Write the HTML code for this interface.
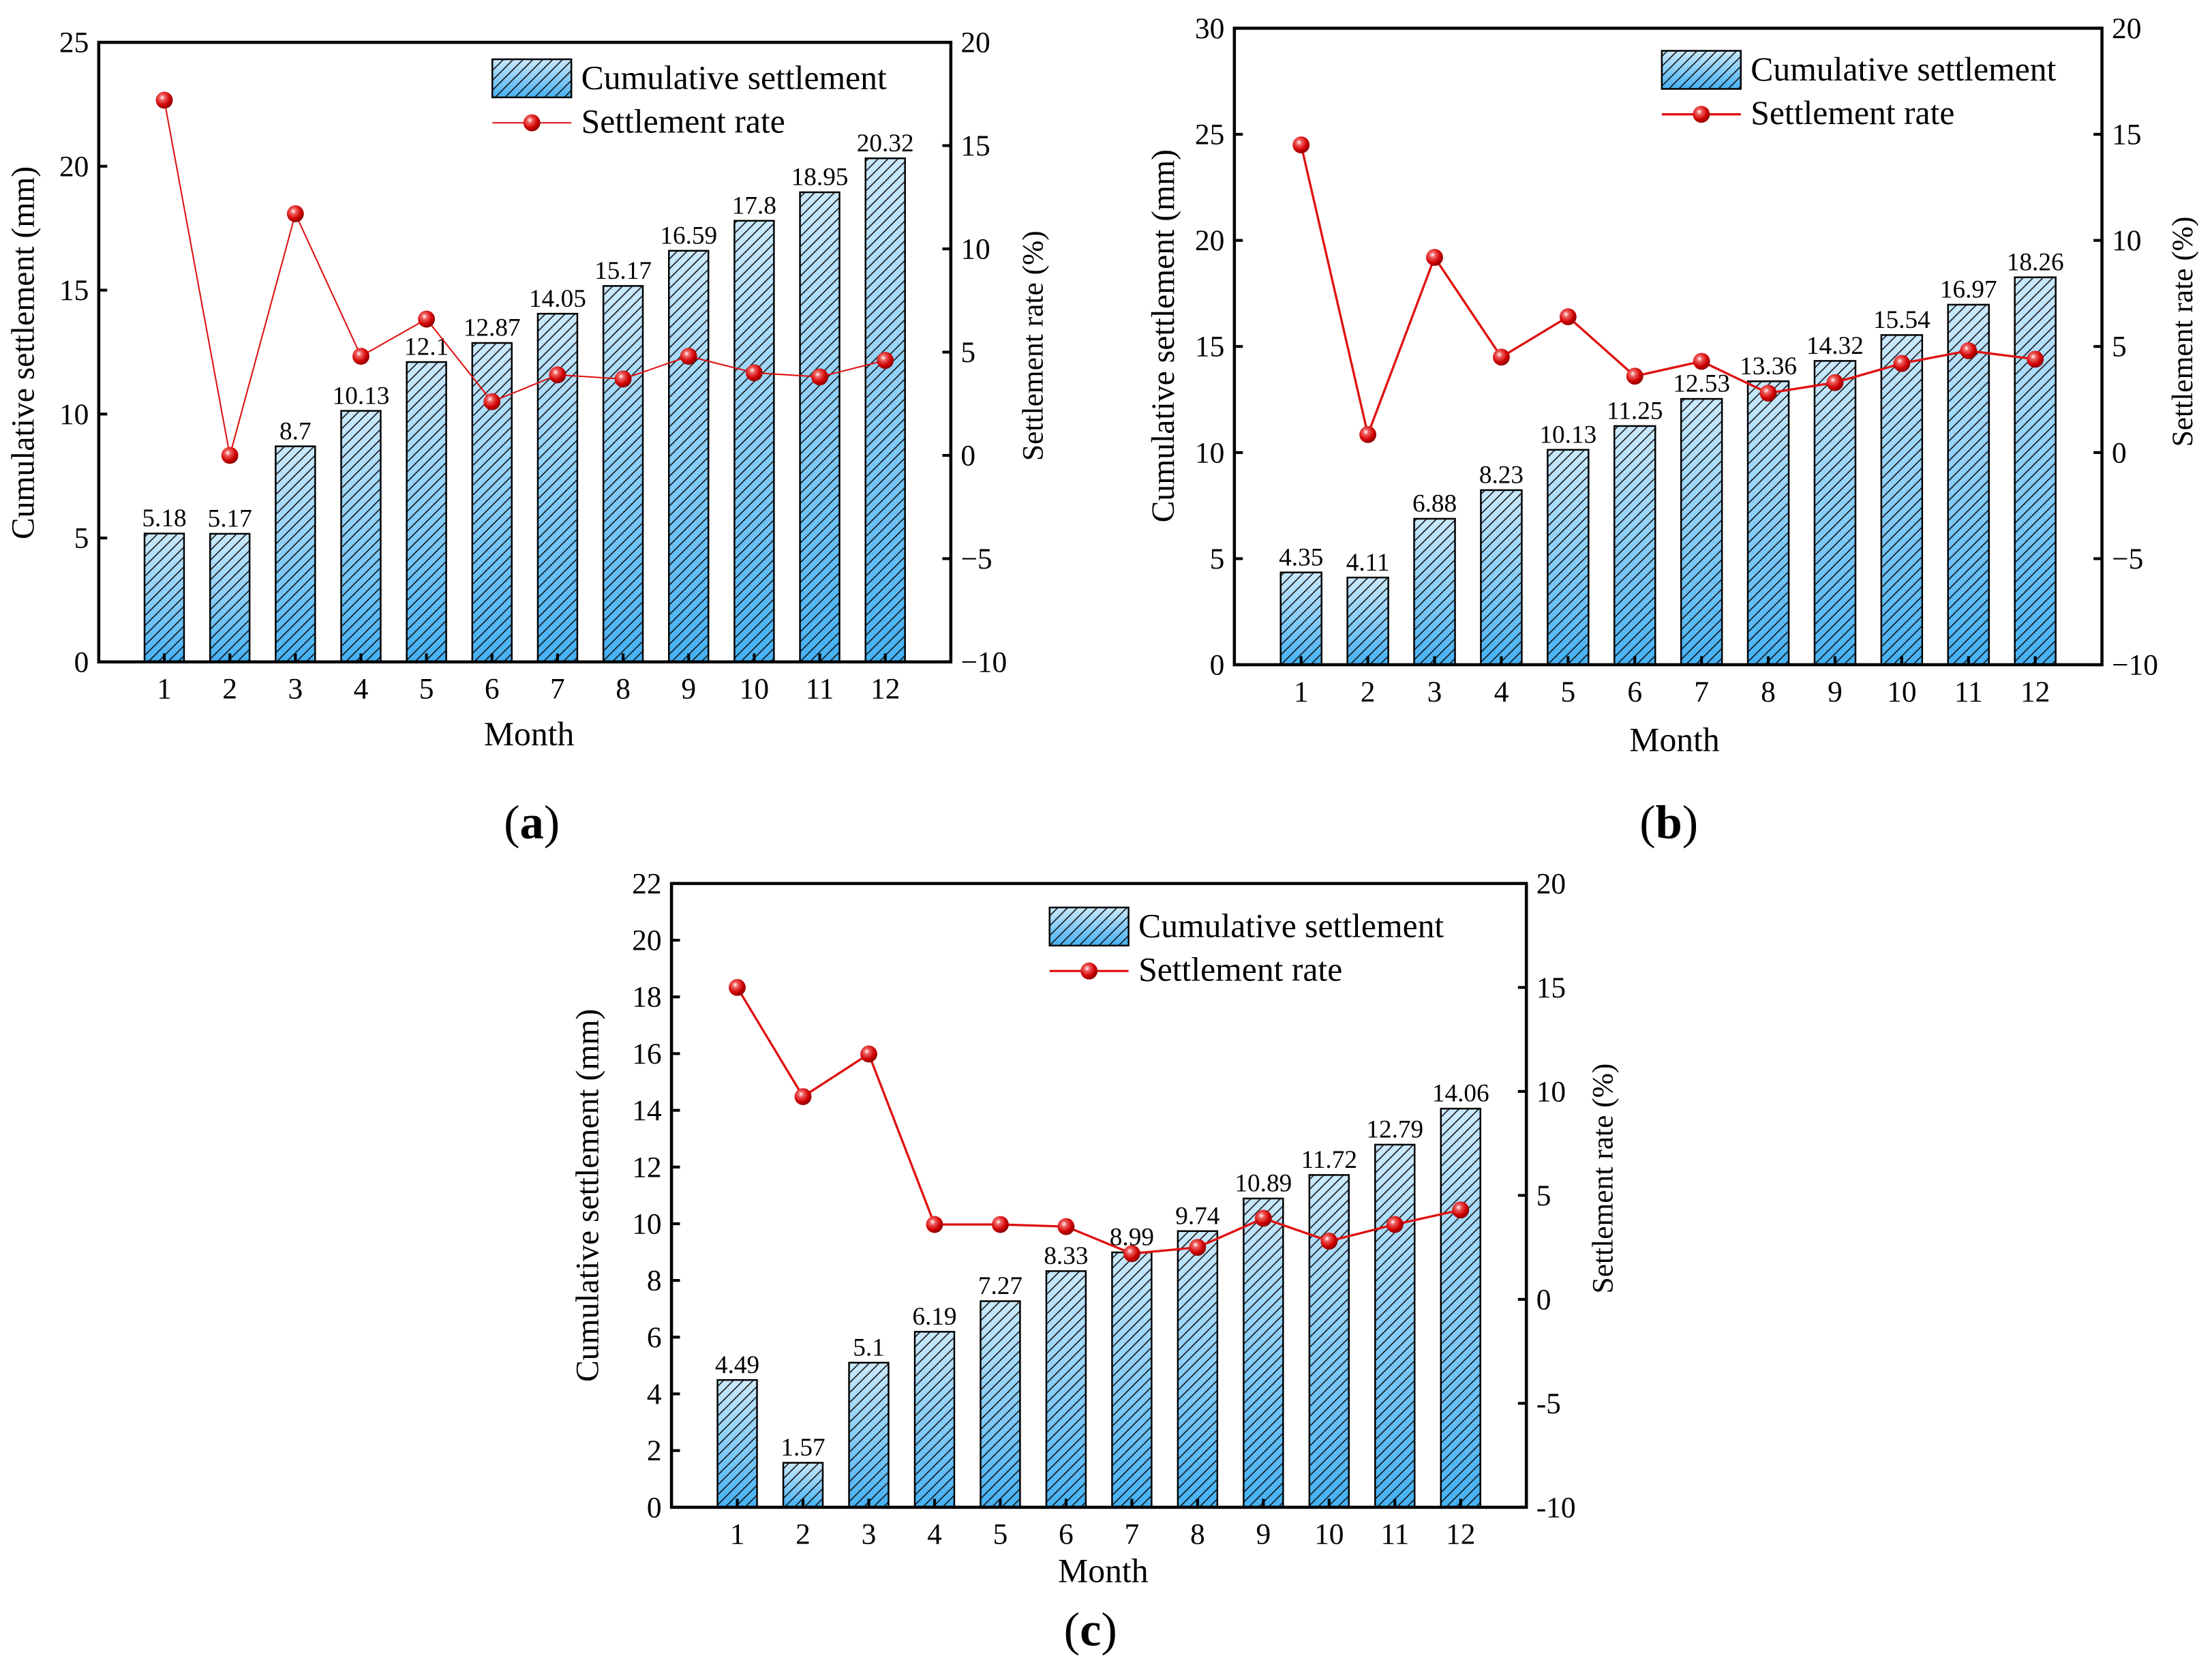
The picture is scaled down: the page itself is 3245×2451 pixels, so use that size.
<!DOCTYPE html>
<html><head><meta charset="utf-8"><style>
html,body{margin:0;padding:0;background:#fff}
svg{display:block;font-family:"Liberation Serif","Times New Roman",serif}
svg text{font-family:"Liberation Serif","Times New Roman",serif}
</style></head><body>
<svg id="fig" width="3245" height="2451" viewBox="0 0 1568 1184" preserveAspectRatio="none" xmlns="http://www.w3.org/2000/svg">
<defs>
<linearGradient id="barGrad" x1="0" y1="0" x2="0" y2="1">
<stop offset="0" stop-color="#cbe9fc"/><stop offset="1" stop-color="#45b1f4"/>
</linearGradient>
<pattern id="hatch" patternUnits="userSpaceOnUse" width="7" height="7">
<path d="M-1,8 L8,-1 M-2,2 L2,-2 M5,9 L9,5" stroke="#111" stroke-width="0.75"/>
</pattern>
<radialGradient id="ball" cx="0.38" cy="0.35" r="0.65">
<stop offset="0" stop-color="#ffffff"/><stop offset="0.25" stop-color="#f06060"/><stop offset="0.7" stop-color="#d00000"/><stop offset="1" stop-color="#900000"/>
</radialGradient>
</defs>
</svg>
<script>
// ---- Panel (a) data
const monthsA = [1,2,3,4,5,6,7,8,9,10,11,12];
const cumA = [5.18,5.17,8.7,10.13,12.1,12.87,14.05,15.17,16.59,17.8,18.95,20.32];
const rateA = [17.2,0.0,11.7,4.8,6.6,2.6,3.9,3.7,4.8,4.0,3.8,4.6];
const leftTicksA = [0,5,10,15,20,25];
const rightTicksA = [-10,-5,0,5,10,15,20];
const rightTickLabelsA = ["\u221210","\u22125","0","5","10","15","20"];
// ---- Panel (b) data
const monthsB = [1,2,3,4,5,6,7,8,9,10,11,12];
const cumB = [4.35,4.11,6.88,8.23,10.13,11.25,12.53,13.36,14.32,15.54,16.97,18.26];
const rateB = [14.5,0.85,9.2,4.5,6.4,3.6,4.3,2.8,3.3,4.2,4.8,4.4];
const leftTicksB = [0,5,10,15,20,25,30];
const rightTicksB = [-10,-5,0,5,10,15,20];
const rightTickLabelsB = ["\u221210","\u22125","0","5","10","15","20"];
// ---- Panel (c) data
const monthsC = [1,2,3,4,5,6,7,8,9,10,11,12];
const cumC = [4.49,1.57,5.1,6.19,7.27,8.33,8.99,9.74,10.89,11.72,12.79,14.06];
const rateC = [15.0,9.75,11.8,3.6,3.6,3.5,2.2,2.5,3.9,2.8,3.6,4.3];
const leftTicksC = [0,2,4,6,8,10,12,14,16,18,20,22];
const rightTicksC = [-10,-5,0,5,10,15,20];
const rightTickLabelsC = ["-10","-5","0","5","10","15","20"];

const NS="http://www.w3.org/2000/svg";
const svg=document.getElementById('fig');
const FF='"Liberation Serif", "Times New Roman", serif';
function mk(tag,attrs,parent,text){const e=document.createElementNS(NS,tag);for(const k in attrs)e.setAttribute(k,attrs[k]);if(tag==='text')e.setAttribute('font-family',FF);if(text!==undefined)e.textContent=text;(parent||svg).appendChild(e);return e;}

function drawPanel(cfg){
  const g=mk('g',{});
  
  
  const L=cfg.box[0],T=cfg.box[1],R=cfg.box[2],B=cfg.box[3];
  const xs=m=>L+(R-L)*m/13;
  const yl=v=>B-(B-T)*(v-cfg.lmin)/(cfg.lmax-cfg.lmin);
  const yr=v=>B-(B-T)*(v+10)/30;
  const bw=cfg.bw;
  cfg.months.forEach((m,i)=>{
    const x=xs(m)-bw/2,y=yl(cfg.cum[i]),h=B-y;
    const gr=mk('rect',{x:x,y:y,width:bw,height:h,fill:'url(#barGrad)'},g);
    
    
    mk('rect',{x:x,y:y,width:bw,height:h,fill:'url(#hatch)',stroke:'#000','stroke-width':1.2},g);
    const t=mk('text',{x:xs(m),y:y-5,'font-size':18,'text-anchor':'middle',fill:'#000'},g,String(cfg.cum[i]));
    
    
  });
  const pts=cfg.months.map((m,i)=>xs(m)+','+yr(cfg.rate[i])).join(' ');
  const pl=mk('polyline',{points:pts,fill:'none',stroke:'#e01010','stroke-width':cfg.lw},g);
  
  
  cfg.months.forEach((m,i)=>{
    const c=mk('circle',{cx:xs(m),cy:yr(cfg.rate[i]),r:6,fill:'url(#ball)'},g);
    
    
  });
  const f=mk('rect',{x:L,y:T,width:R-L,height:B-T,fill:'none',stroke:'#000','stroke-width':2.2},g);
  
  
  cfg.lt.forEach(v=>{
    mk('line',{x1:L,x2:L+6,y1:yl(v),y2:yl(v),stroke:'#000','stroke-width':2},g);
    const t=mk('text',{x:L-7,y:yl(v)+7,'font-size':21,'text-anchor':'end'},g,String(v));
    
    
  });
  cfg.rt.forEach((v,i)=>{
    mk('line',{x1:R-6,x2:R,y1:yr(v),y2:yr(v),stroke:'#000','stroke-width':2},g);
    const t=mk('text',{x:R+7,y:yr(v)+7,'font-size':21,'text-anchor':'start'},g,cfg.rtl[i]);
    
    
  });
  cfg.months.forEach(m=>{
    mk('line',{x1:xs(m),x2:xs(m),y1:B-6,y2:B,stroke:'#000','stroke-width':2},g);
    const t=mk('text',{x:xs(m),y:B+26,'font-size':21,'text-anchor':'middle'},g,String(m));
    
    
  });
  const xt=mk('text',{x:cfg.month[0],y:cfg.month[1],'font-size':24,'text-anchor':'middle'},g,'Month');
  
  
  const ylt=mk('text',{x:0,y:0,'font-size':23,'text-anchor':'middle',transform:`translate(${cfg.ltit[0]},${cfg.ltit[1]}) rotate(-90)`},g,'Cumulative settlement (mm)');
  
  
  const yrt=mk('text',{x:0,y:0,'font-size':21,'text-anchor':'middle',transform:`translate(${cfg.rtit[0]},${cfg.rtit[1]}) rotate(-90)`},g,'Settlement rate (%)');
  
  
  const pt=mk('text',{x:cfg.plab[0],y:cfg.plab[1],'font-size':34,'text-anchor':'middle'},g);
  
  
  mk('tspan',{},pt,'(');mk('tspan',{'font-weight':'bold'},pt,cfg.id);mk('tspan',{},pt,')');
  const lx=cfg.leg[0],ly=cfg.leg[1];
  const lg=mk('g',{},g);
  
  
  mk('rect',{x:lx,y:ly,width:56,height:27,fill:'url(#barGrad)'},lg);
  mk('rect',{x:lx,y:ly,width:56,height:27,fill:'url(#hatch)',stroke:'#000','stroke-width':1.2},lg);
  mk('text',{x:lx+63,y:ly+21,'font-size':24},lg,'Cumulative settlement');
  mk('line',{x1:lx,x2:lx+56,y1:ly+45,y2:ly+45,stroke:'#e01010','stroke-width':cfg.lw},lg);
  mk('circle',{cx:lx+28,cy:ly+45,r:6,fill:'url(#ball)'},lg);
  mk('text',{x:lx+63,y:ly+52,'font-size':24},lg,'Settlement rate');
}
drawPanel({id:'a',box:[70,30,674,469],lmin:0,lmax:25,bw:28,lw:1,months:monthsA,cum:cumA,rate:rateA,lt:leftTicksA,rt:rightTicksA,rtl:rightTickLabelsA,month:[375,528],ltit:[24,250],rtit:[739,245],plab:[377,594],leg:[349,42]});
drawPanel({id:'b',box:[875,20,1490,471],lmin:0,lmax:30,bw:29,lw:1.6,months:monthsB,cum:cumB,rate:rateB,lt:leftTicksB,rt:rightTicksB,rtl:rightTickLabelsB,month:[1187,532],ltit:[832,238],rtit:[1554,235],plab:[1183,594],leg:[1178,36]});
drawPanel({id:'c',box:[476,626,1082,1068],lmin:0,lmax:22,bw:28,lw:1.6,months:monthsC,cum:cumC,rate:rateC,lt:leftTicksC,rt:rightTicksC,rtl:rightTickLabelsC,month:[782,1121],ltit:[424,847],rtit:[1143,835],plab:[773,1166],leg:[744,643]});
</script>
</body></html>
